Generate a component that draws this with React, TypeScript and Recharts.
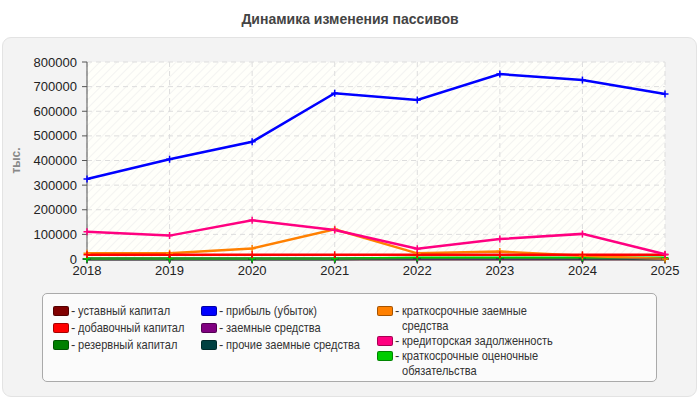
import React from "react";
import { CartesianGrid, Line, LineChart, XAxis, YAxis } from "recharts";

const years = ["2018", "2019", "2020", "2021", "2022", "2023", "2024", "2025"];

const ustavnyi = [10, 10, 10, 10, 10, 10, 10, 10];
const dobavochnyi = [17000, 17000, 17000, 17000, 17000, 17000, 17000, 17000];
const rezervnyi = [0, 0, 0, 0, 0, 0, 0, 0];
const pribyl = [325000, 405000, 476000, 673000, 646000, 751000, 727000, 670000];
const zaemnye = [0, 0, 0, 0, 0, 0, 0, 0];
const prochieZaemnye = [0, 0, 0, 0, 3000, 3000, 2000, 0];
const kratkoZaemnye = [23000, 23000, 43000, 121000, 23000, 30000, 13000, 500];
const kreditorskaya = [111000, 95000, 157000, 118000, 42000, 81000, 102000, 19000];
const ocenochnye = [1000, 1000, 1000, 1000, 5000, 5000, 5000, 5000];

const yTicks = [0, 100000, 200000, 300000, 400000, 500000, 600000, 700000, 800000];

const series = [
  { key: "ustavnyi", name: "уставный капитал", color: "#800000", values: ustavnyi },
  { key: "dobavochnyi", name: "добавочный капитал", color: "#ff0000", values: dobavochnyi },
  { key: "rezervnyi", name: "резервный капитал", color: "#008000", values: rezervnyi },
  { key: "pribyl", name: "прибыль (убыток)", color: "#0000ff", values: pribyl },
  { key: "zaemnye", name: "заемные средства", color: "#800080", values: zaemnye },
  { key: "prochieZaemnye", name: "прочие заемные средства", color: "#004040", values: prochieZaemnye },
  { key: "kratkoZaemnye", name: "краткосрочные заемные средства", color: "#ff8000", values: kratkoZaemnye },
  { key: "kreditorskaya", name: "кредиторская задолженность", color: "#ff0080", values: kreditorskaya },
  { key: "ocenochnye", name: "краткосрочные оценочные обязательства", color: "#00cc00", values: ocenochnye },
];

// draw order: small lines first, blue on top
const drawOrder = ["ustavnyi", "rezervnyi", "zaemnye", "prochieZaemnye", "ocenochnye", "kratkoZaemnye", "dobavochnyi", "kreditorskaya", "pribyl"];

const legendColumns = [
  { left: 10, gap: 2, items: [0, 1, 2] },
  { left: 158, gap: 2, items: [3, 4, 5] },
  { left: 334, gap: 0, items: [6, 7, 8] },
];

const data = years.map((year, i) => {
  const row: Record<string, any> = { year };
  for (const s of series) row[s.key] = s.values[i];
  return row;
});

const font = "'Liberation Sans', Arial, sans-serif";
const squeeze = 0.85;

function plusDot(color: string) {
  return (props: any) => {
    const { cx, cy, index } = props;
    if (cx == null || cy == null) return <g key={index} />;
    return (
      <path
        key={index}
        d={`M${cx - 3.5},${cy}h7M${cx},${cy - 3.5}v7`}
        stroke={color}
        strokeWidth={1.5}
        fill="none"
      />
    );
  };
}

export default function App() {
  return (
    <div style={{ position: "absolute", left: 0, top: 0, width: 700, height: 400, background: "#fff", fontFamily: font }}>
      <div
        style={{
          position: "absolute",
          left: 0,
          top: 11,
          width: 700,
          textAlign: "center",
          fontSize: 14,
          fontWeight: "bold",
          color: "#444",
        }}
      >
        Динамика изменения пассивов
      </div>
      <div
        style={{
          position: "absolute",
          left: 2,
          top: 37,
          width: 693,
          height: 358,
          background: "#f3f3f3",
          border: "1px solid #e3e3e3",
          borderRadius: 9,
        }}
      />
      <div style={{ position: "absolute", left: 0, top: 0 }}>
        <LineChart width={700} height={400} data={data} margin={{ top: 62, right: 35, left: 0, bottom: 121 }}>
          <defs>
            <pattern id="hatch" width="6" height="6" patternUnits="userSpaceOnUse" patternTransform="rotate(45)">
              <rect width="6" height="6" fill="#fffffa" />
              <line x1="0" y1="0" x2="0" y2="6" stroke="#efefef" strokeWidth="1.5" />
            </pattern>
          </defs>
          <CartesianGrid stroke="#dddddd" strokeDasharray="5 4" fill="url(#hatch)" />
          <XAxis
            dataKey="year"
            height={20}
            tick={{ fontSize: 13, fill: "#222", fontFamily: font }}
            tickLine={{ stroke: "#555" }}
            axisLine={{ stroke: "#555" }}
            tickSize={5}
            interval={0}
          />
          <YAxis
            width={87}
            domain={[0, 800000]}
            ticks={yTicks}
            interval={0}
            tick={{ fontSize: 13, fill: "#222", fontFamily: font }}
            tickLine={{ stroke: "#555" }}
            axisLine={{ stroke: "#555" }}
            tickSize={5}
            tickMargin={5}
            label={{
              value: "тыс.",
              angle: -90,
              position: "insideLeft",
              offset: 16,
              style: { fontSize: 12, fontWeight: "bold", fill: "#888", fontFamily: font, textAnchor: "middle" },
            }}
          />
          {drawOrder.map((k) => {
            const s = series.find((x) => x.key === k)!;
            return (
              <Line
                key={s.key}
                type="linear"
                dataKey={s.key}
                name={s.name}
                stroke={s.color}
                strokeWidth={2.5}
                dot={plusDot(s.color)}
                activeDot={false}
                isAnimationActive={false}
              />
            );
          })}
        </LineChart>
      </div>
      <div
        style={{
          position: "absolute",
          left: 42,
          top: 293,
          width: 613,
          height: 87,
          background: "#fbfbfb",
          border: "1px solid #aaa",
          borderRadius: 5,
          fontSize: 13,
          color: "#333",
        }}
      >
        {legendColumns.map((col, ci) => (
          <div key={ci} style={{ position: "absolute", left: col.left, top: 9 }}>
            {col.items.map((idx) => {
              const s = series[idx];
              return (
                <div key={s.key} style={{ display: "flex", alignItems: "flex-start", marginBottom: col.gap, lineHeight: "15px" }}>
                  <div
                    style={{
                      width: 14,
                      height: 8,
                      marginTop: 3,
                      background: s.color,
                      border: "1px solid rgba(0,0,0,0.35)",
                      borderRadius: 2,
                      flex: "none",
                    }}
                  />
                  <div style={{ marginLeft: 2, flex: "none" }}>-</div>
                  <div
                    style={{
                      marginLeft: 3,
                      width: 190,
                      flex: "none",
                      transform: `scaleX(${squeeze})`,
                      transformOrigin: "left top",
                    }}
                  >
                    {s.name}
                  </div>
                </div>
              );
            })}
          </div>
        ))}
      </div>
    </div>
  );
}
